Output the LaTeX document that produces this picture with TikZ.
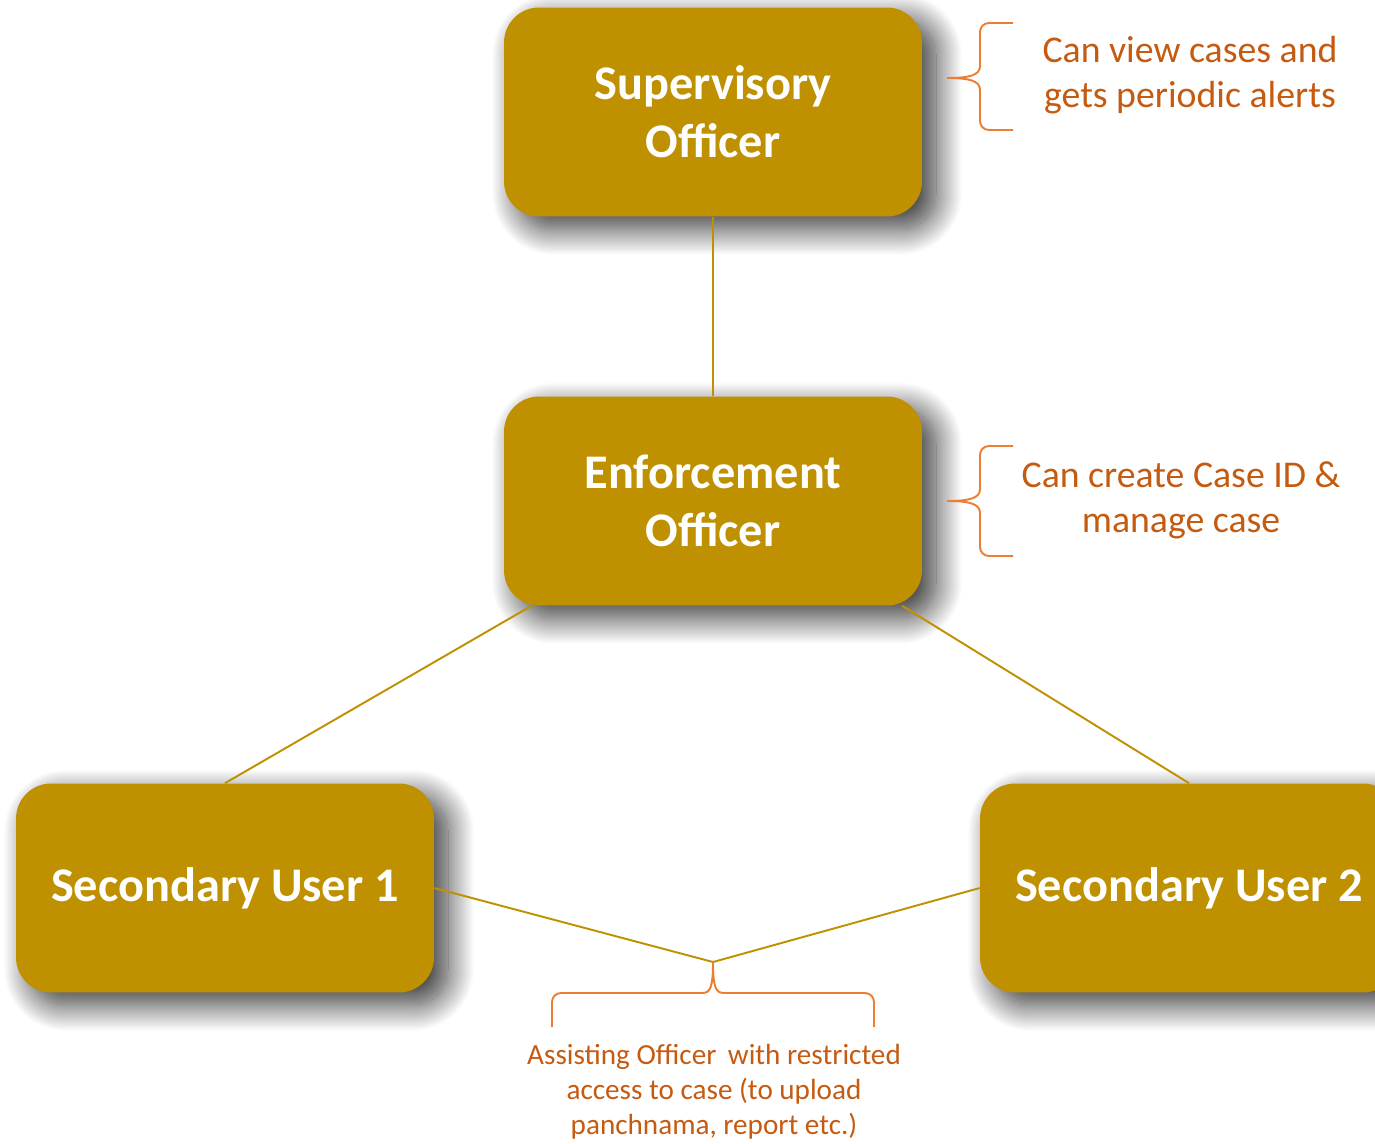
\documentclass[tikz,border=0pt]{standalone}
\usepackage{fontspec}
\setmainfont{Carlito}
\usetikzlibrary{positioning,shadows.blur}
\definecolor{boxgold}{HTML}{BF9000}
\definecolor{notetext}{HTML}{C55A11}
\definecolor{bracecol}{HTML}{ED7D31}
\tikzset{
  rolebox/.style={rectangle, rounded corners=0.7cm, fill=boxgold, text=white,
    minimum width=8.36cm, minimum height=4.18cm, align=center,
    font=\fontsize{27.5}{33}\selectfont\bfseries,
    blur shadow={shadow xshift=8pt, shadow yshift=-7pt, shadow blur radius=15pt,
      shadow blur steps=30, shadow opacity=80}},
  link/.style={draw=boxgold, line width=1.1pt},
  brc/.style={draw=bracecol, line width=1.1pt},
  note/.style={text=notetext, align=center, font=\fontsize{21.5}{25.5}\selectfont},
  smallnote/.style={text=notetext, align=center, font=\fontsize{16.6}{20}\selectfont},
}

\begin{document}
\begin{tikzpicture}[x=0.02cm, y=-0.02cm]
  \useasboundingbox (0,0) rectangle (1375,1143);

  % --- Role boxes ---
  \node[rolebox] (sup) at (713,112) {Supervisory\\Officer};
  \node[rolebox] (enf) at (713,501) {Enforcement\\Officer};
  \node[rolebox] (su1) at (225,888) {Secondary User 1};
  \node[rolebox] (su2) at (1189,888) {Secondary User 2};

  % --- Connectors ---
  \coordinate (meet) at (713,962);
  \draw[link] (sup.south) -- (enf.north);
  \draw[link] (enf.210) -- (su1.north);
  \draw[link] (enf.331) -- (su2.north);
  \draw[link] (su1.east) -- (meet);
  \draw[link] (su2.west) -- (meet);

  % --- Braces ---
  \draw[brc] (1013,23) -- (989,23) to[out=180,in=90] (980,32) -- (980,66)
    .. controls (980,75) and (970,78) .. (947,78)
    .. controls (970,78) and (980,81) .. (980,90) -- (980,121)
    to[out=-90,in=180] (989,130) -- (1013,130);
  \draw[brc] (1013,446) -- (989,446) to[out=180,in=90] (980,455) -- (980,489)
    .. controls (980,498) and (970,501) .. (947,501)
    .. controls (970,501) and (980,504) .. (980,513) -- (980,547)
    to[out=-90,in=180] (989,556) -- (1013,556);
  \draw[brc] (552,1027) -- (552,1002) to[out=90,in=180] (561,993) -- (702,993)
    .. controls (710,993) and (713,988) .. (meet)
    .. controls (713,988) and (716,993) .. (724,993) -- (865,993)
    to[out=0,in=90] (874,1002) -- (874,1027);

  % --- Notes ---
  \node[note] (supnote) at (1190,75) {Can view cases and\\gets periodic alerts};
  \node[note] (enfnote) at (1181,500) {Can create Case ID \&\\manage case};
  \node[smallnote] (asnote) at (714,1092) {Assisting Officer\, with restricted\\access to case (to upload\\panchnama, report etc.)};
\end{tikzpicture}
\end{document}
